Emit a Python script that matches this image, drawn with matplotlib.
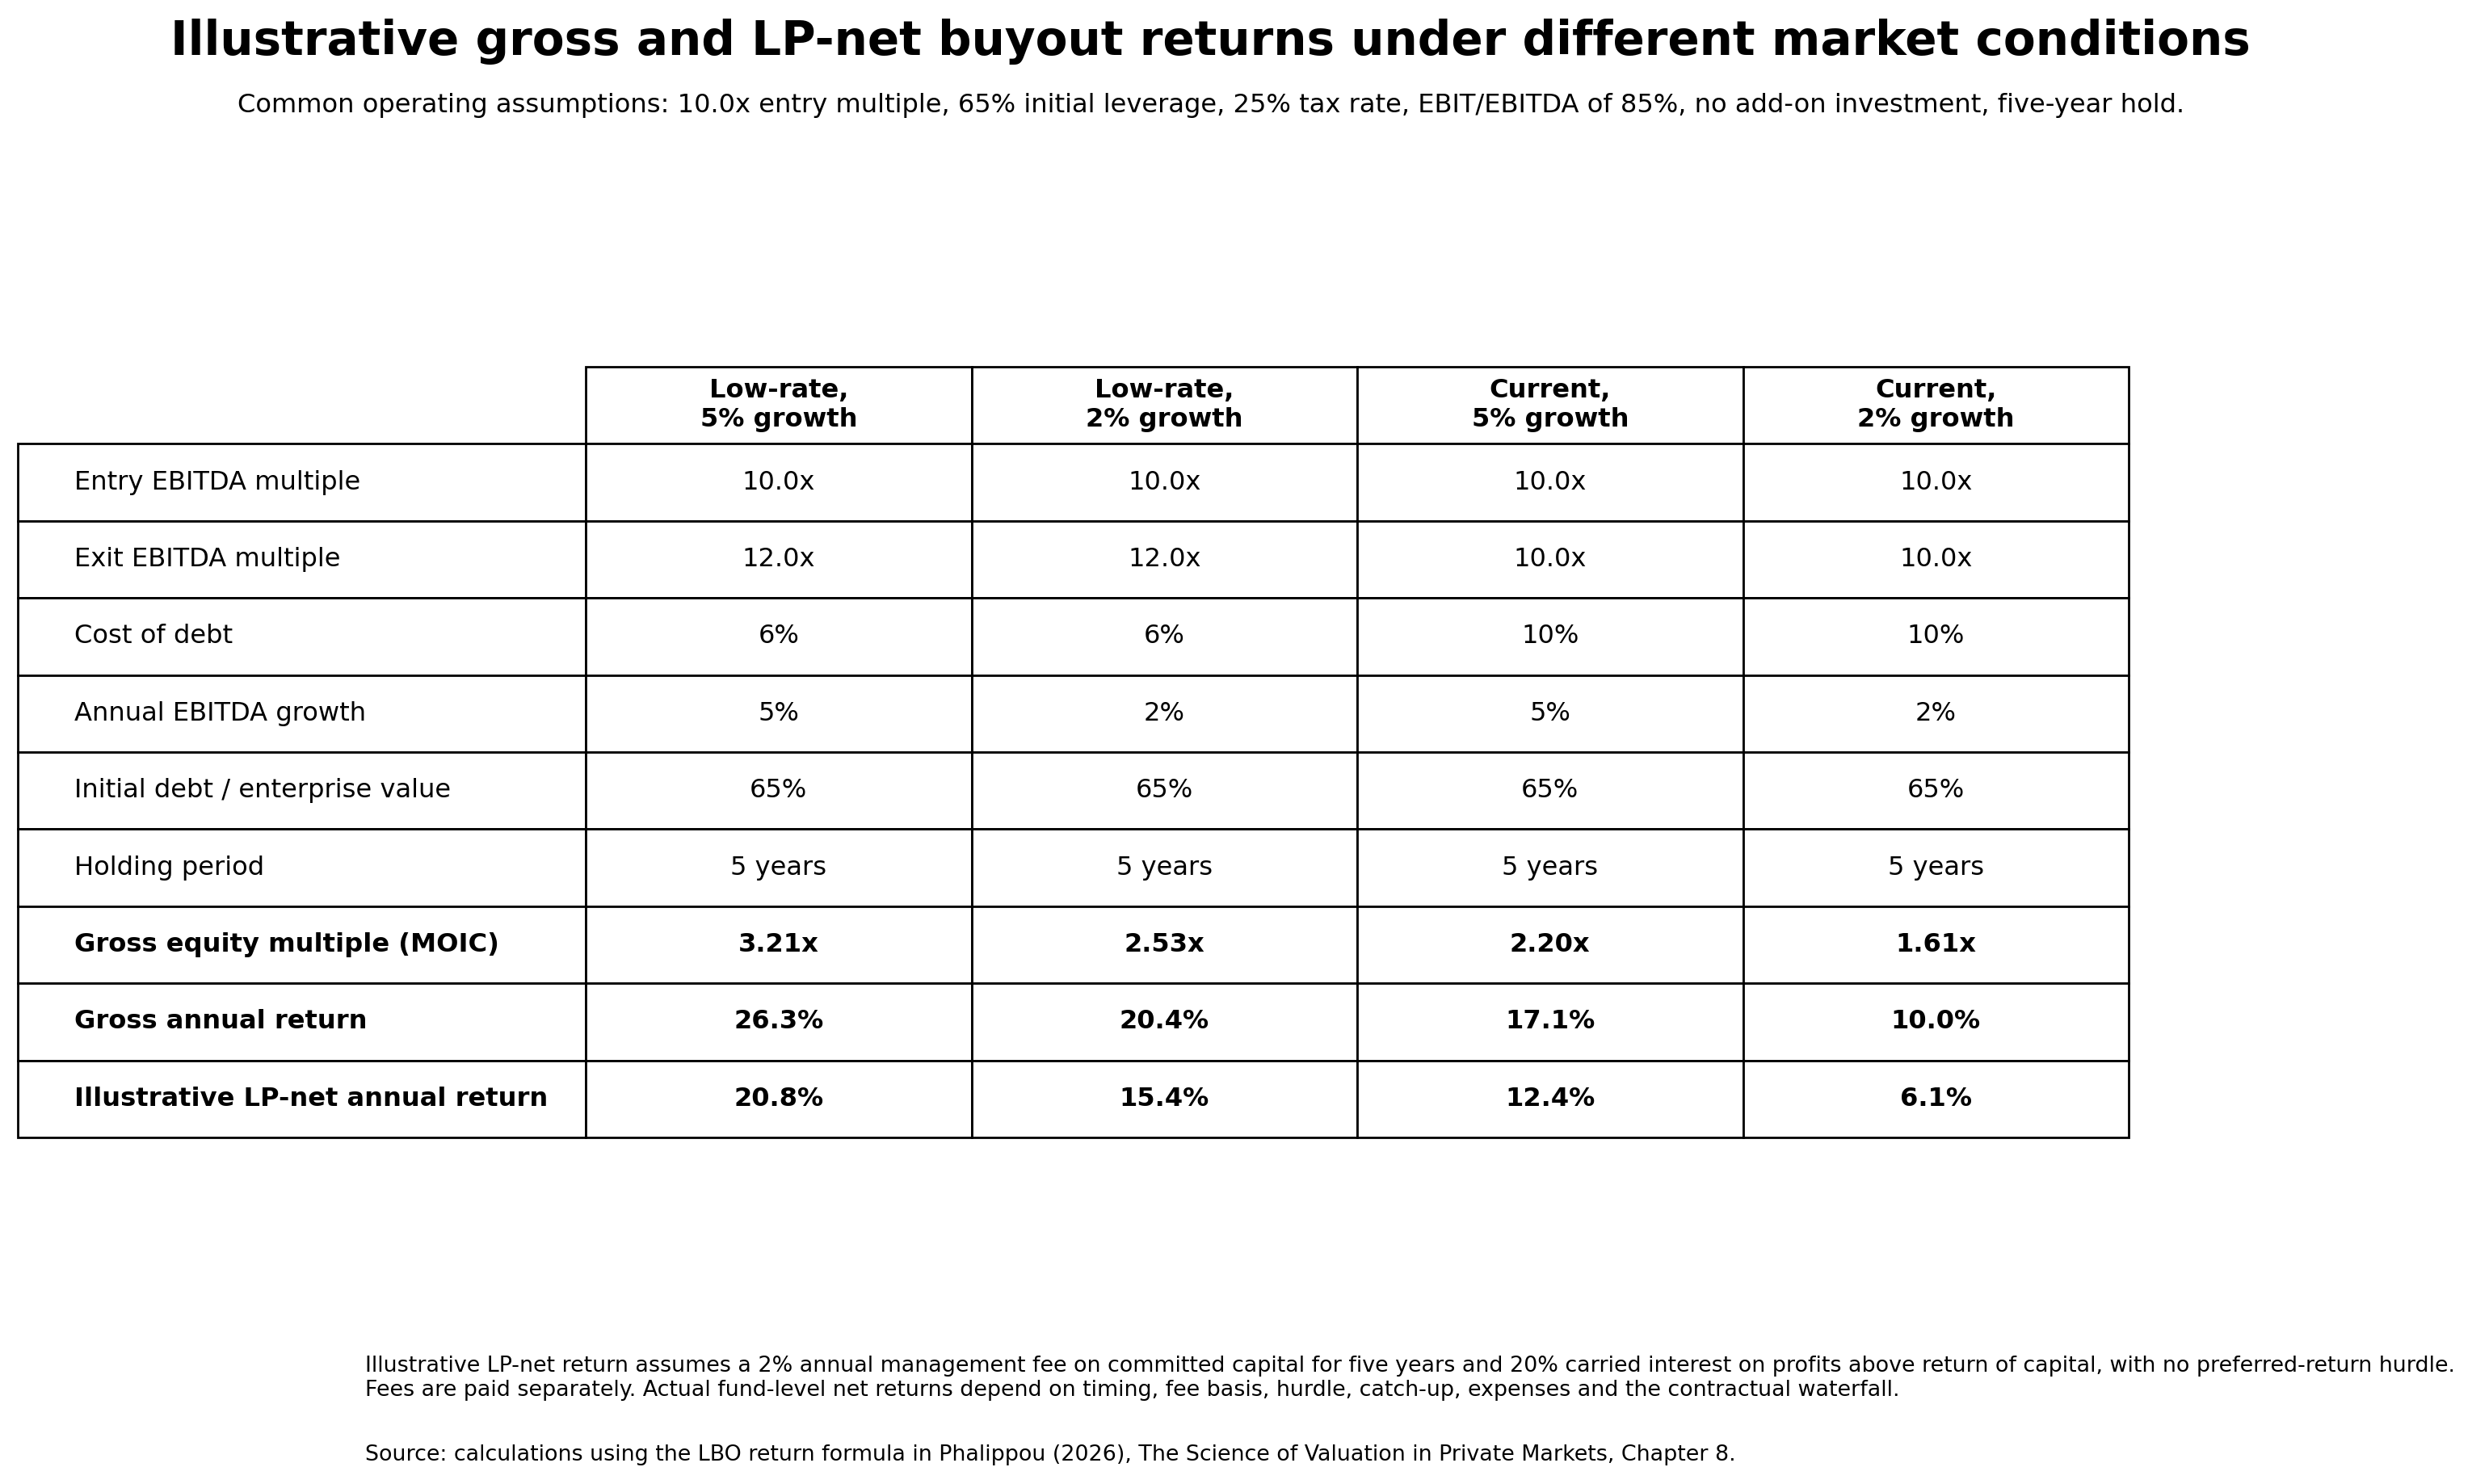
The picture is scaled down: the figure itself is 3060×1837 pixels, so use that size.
import matplotlib
matplotlib.use("Agg")
import matplotlib.pyplot as plt

title = "Illustrative gross and LP-net buyout returns under different market conditions"
subtitle = ("Common operating assumptions: 10.0x entry multiple, 65% initial leverage, 25% tax rate, "
            "EBIT/EBITDA of 85%, no add-on investment, five-year hold.")
footnote = ("Illustrative LP-net return assumes a 2% annual management fee on committed capital for five years "
            "and 20% carried interest on profits above return of capital, with no preferred-return hurdle.\n"
            "Fees are paid separately. Actual fund-level net returns depend on timing, fee basis, hurdle, "
            "catch-up, expenses and the contractual waterfall.")
source = ("Source: calculations using the LBO return formula in Phalippou (2026), "
          "The Science of Valuation in Private Markets, Chapter 8.")

scenarios = ["Low-rate,\n5% growth", "Low-rate,\n2% growth", "Current,\n5% growth", "Current,\n2% growth"]

row_labels = ["Entry EBITDA multiple", "Exit EBITDA multiple", "Cost of debt", "Annual EBITDA growth",
              "Initial debt / enterprise value", "Holding period", "Gross equity multiple (MOIC)",
              "Gross annual return", "Illustrative LP-net annual return"]

entry_multiple = ["10.0x", "10.0x", "10.0x", "10.0x"]
exit_multiple = ["12.0x", "12.0x", "10.0x", "10.0x"]
cost_of_debt = ["6%", "6%", "10%", "10%"]
ebitda_growth = ["5%", "2%", "5%", "2%"]
initial_debt_ev = ["65%", "65%", "65%", "65%"]
holding_period = ["5 years", "5 years", "5 years", "5 years"]
gross_moic = ["3.21x", "2.53x", "2.20x", "1.61x"]
gross_return = ["26.3%", "20.4%", "17.1%", "10.0%"]
lp_net_return = ["20.8%", "15.4%", "12.4%", "6.1%"]

bold_rows = {"Gross equity multiple (MOIC)", "Gross annual return", "Illustrative LP-net annual return"}

rows = [entry_multiple, exit_multiple, cost_of_debt, ebitda_growth, initial_debt_ev,
        holding_period, gross_moic, gross_return, lp_net_return]
cell_text = [[lab] + vals for lab, vals in zip(row_labels, rows)]

W, H = 3060, 1837
fig = plt.figure(figsize=(W / 200, H / 200), dpi=200)
ax = fig.add_axes([0, 0, 1, 1])
ax.axis("off")

fig.text(1498 / W, 1 - 68 / H, title, ha="center", va="baseline", fontsize=20.9, fontweight="bold")
fig.text(1499 / W, 1 - 139 / H, subtitle, ha="center", va="baseline", fontsize=11.57)

left, right, top, bottom = 22 / W, 2635 / W, 1 - 454 / H, 1 - 1408 / H
tbl = ax.table(cellText=cell_text, colLabels=[""] + scenarios,
               colWidths=[703, 477.5, 477.5, 477.5, 477.5],
               cellLoc="center", bbox=[left, bottom, right - left, top - bottom])
tbl.auto_set_font_size(False)
tbl.set_fontsize(11.55)

for (r, c), cell in tbl.get_celld().items():
    cell.set_linewidth(1.0)
    txt = cell.get_text()
    if r == 0:
        txt.set_fontweight("bold")
        if c == 0:
            cell.visible_edges = ""
    else:
        if c == 0:
            cell._loc = "left"
            txt.set_horizontalalignment("left")
        if row_labels[r - 1] in bold_rows:
            txt.set_fontweight("bold")

fig.text(452.5 / W, 1 - 1728 / H, footnote, ha="left", va="baseline", fontsize=9.67)
fig.text(452.5 / W, 1 - 1808 / H, source, ha="left", va="baseline", fontsize=9.67)

fig.savefig("out.png", dpi=200, facecolor="white")
